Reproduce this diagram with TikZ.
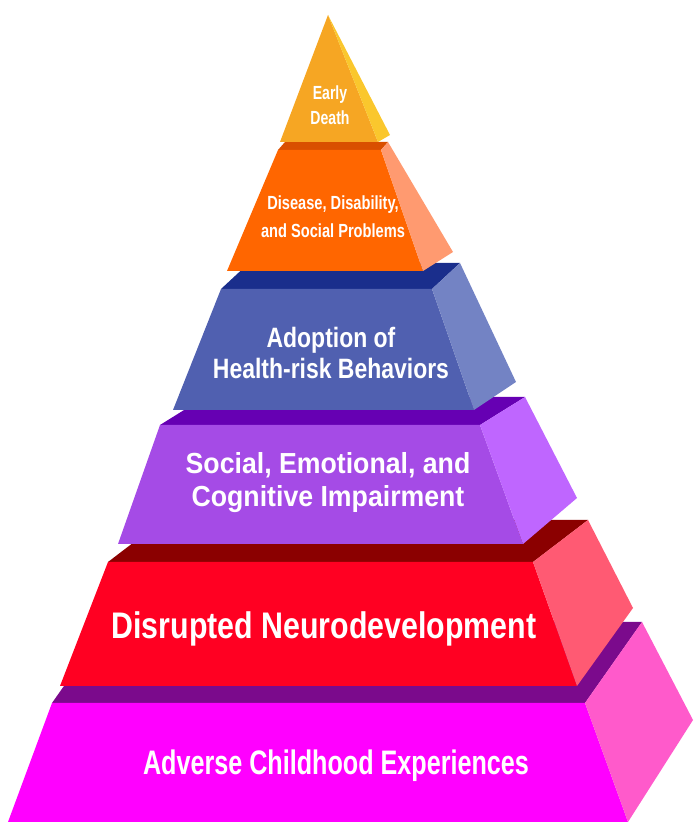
\documentclass[tikz,border=0pt]{standalone}
\usepackage{fontspec}
\setmainfont{Liberation Sans}
\usepackage{graphicx}

\definecolor{deathFront}{RGB}{246,166,35}
\definecolor{deathSide}{RGB}{250,199,45}
\definecolor{disFront}{RGB}{255,102,0}
\definecolor{disTop}{RGB}{217,79,0}
\definecolor{disSide}{RGB}{255,154,112}
\definecolor{adoptFront}{RGB}{80,96,176}
\definecolor{adoptTop}{RGB}{26,46,140}
\definecolor{adoptSide}{RGB}{115,131,196}
\definecolor{socFront}{RGB}{165,75,230}
\definecolor{socTop}{RGB}{102,0,179}
\definecolor{socSide}{RGB}{191,102,255}
\definecolor{neuroFront}{RGB}{255,0,34}
\definecolor{neuroTop}{RGB}{139,0,0}
\definecolor{neuroSide}{RGB}{255,90,115}
\definecolor{aceFront}{RGB}{255,0,255}
\definecolor{aceTop}{RGB}{123,10,140}
\definecolor{aceSide}{RGB}{255,90,203}

\newcommand{\sq}[2]{\scalebox{#1}[1]{#2}}
\newcommand{\lblsize}[2]{\bfseries\fontsize{#1}{#2}\selectfont}

\tikzset{
  lbl/.style={text=white, align=center, inner sep=0pt},
}

\begin{document}
\begin{tikzpicture}[x=1pt,y=1pt]
\useasboundingbox (0,0) rectangle (694,825);

\fill[aceTop] (52,122) -- (585,122) -- (642,203) -- (109,203) -- cycle;
\fill[aceFront] (8,3) -- (628,3) -- (585,122) -- (52,122) -- cycle;
\fill[aceSide] (585,122) -- (642,203) -- (693,105) -- (628,3) -- cycle;

\fill[neuroTop] (108,263) -- (533,263) -- (588,305) -- (163,305) -- cycle;
\fill[neuroFront] (60,139) -- (577,139) -- (533,263) -- (108,263) -- cycle;
\fill[neuroSide] (533,263) -- (588,305) -- (633,217) -- (577,139) -- cycle;

\fill[socTop] (160,400) -- (480,400) -- (525,428) -- (205,428) -- cycle;
\fill[socFront] (118,281) -- (523,281) -- (480,400) -- (160,400) -- cycle;
\fill[socSide] (480,400) -- (525,428) -- (577,327) -- (523,281) -- cycle;

\fill[adoptTop] (221,536) -- (432,536) -- (460,562) -- (249,562) -- cycle;
\fill[adoptFront] (173,415) -- (474,415) -- (432,536) -- (221,536) -- cycle;
\fill[adoptSide] (432,536) -- (460,562) -- (516,443) -- (474,415) -- cycle;

\fill[disTop] (278,675) -- (381,675) -- (388,683) -- (285,683) -- cycle;
\fill[disFront] (227,554) -- (423,554) -- (381,675) -- (278,675) -- cycle;
\fill[disSide] (381,675) -- (388,683) -- (453,573) -- (423,554) -- cycle;

\fill[deathFront] (280,683) -- (378,683) -- (328,810) -- cycle;
\fill[deathSide] (328,810) -- (390,690) -- (378,683) -- cycle;

\node[lbl, font=\lblsize{19}{25}] (death) at (330,720) {\sq{0.74}{Early}\\\sq{0.74}{Death}};
\node[lbl, font=\lblsize{19}{28}] (disease) at (333,608) {\sq{0.77}{Disease, Disability,}\\\sq{0.77}{and Social Problems}};
\node[lbl, font=\lblsize{28}{31}] (adopt) at (331,472) {\sq{0.82}{Adoption of}\\\sq{0.82}{Health-risk Behaviors}};
\node[lbl, font=\lblsize{29}{33}] (social) at (328,342) {\sq{0.92}{Social, Emotional, and}\\\sq{0.92}{Cognitive Impairment}};
\node[lbl, font=\lblsize{37}{40}] (neuro) at (324,196) {\sq{0.82}{Disrupted Neurodevelopment}};
\node[lbl, font=\lblsize{34}{38}] (ace) at (336,59) {\sq{0.74}{Adverse Childhood Experiences}};
\end{tikzpicture}
\end{document}
